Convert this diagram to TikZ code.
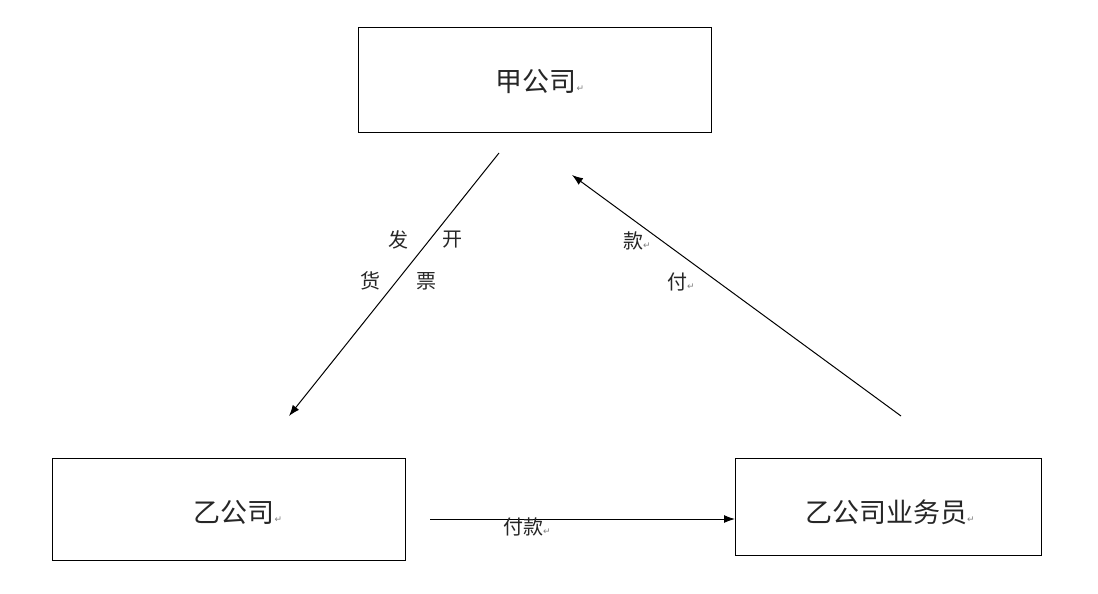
\documentclass[tikz,border=0pt]{standalone}
\usepackage{fontspec}
\newfontfamily\cjk{Noto Sans CJK SC}
\newfontfamily\djvfont{DejaVu Sans}
\usetikzlibrary{arrows.meta}
\newcommand{\rmk}{{\djvfont\fontsize{9}{9}\selectfont\color{gray}↵}}
\begin{document}
\begin{tikzpicture}[x=1pt,y=-1pt,
  lab/.style={font=\cjk\fontsize{20}{20}\selectfont,text=black!85},
  conn/.style={line width=1pt,-{Latex[length=11pt,width=8pt]}}]
\useasboundingbox (0,0) rectangle (1098,594);
\fill[white] (0,0) rectangle (1098,594);
\draw[line width=1pt] (358,28) rectangle (711,132);
\draw[line width=1pt] (52,458) rectangle (405,560);
\draw[line width=1pt] (735,458) rectangle (1041,555);
\node[lab,font=\cjk\fontsize{27}{27}\selectfont] (a) at (540,82) {甲公司\rmk};
\node[lab,font=\cjk\fontsize{27}{27}\selectfont] (b) at (238,512) {乙公司\rmk};
\node[lab,font=\cjk\fontsize{27}{27}\selectfont] (c) at (890,512) {乙公司业务员\rmk};
\coordinate (a1) at (499,153); \coordinate (b1) at (289,416);
\coordinate (c1) at (901,416); \coordinate (a2) at (572,175);
\coordinate (b2) at (430,519); \coordinate (c2) at (735,519);
\draw[conn] (a1) -- (b1);
\draw[conn] (c1) -- (a2);
\draw[conn] (b2) -- (c2);
\node[lab] (t1) at (398,240) {发};
\node[lab] (t2) at (452,240) {开};
\node[lab] (t3) at (370,281) {货};
\node[lab] (t4) at (426,281) {票};
\node[lab] (t5) at (637,241) {款\rmk};
\node[lab] (t6) at (681,282) {付\rmk};
\node[lab] (t7) at (527,527) {付款\rmk};
\end{tikzpicture}
\end{document}
